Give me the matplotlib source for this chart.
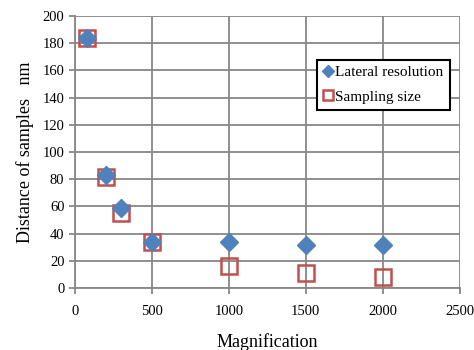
import matplotlib.pyplot as plt

plt.rcParams['font.family'] = ['Liberation Serif', 'DejaVu Serif']

magnification = [80, 200, 300, 500, 1000, 1500, 2000]
lateral_resolution = [184, 83, 59, 34, 34, 32, 32]
sampling_size = [184, 82, 55, 34, 16, 11, 8]

fig = plt.figure(figsize=(4.74, 3.5), dpi=100)
ax = fig.add_axes([0.158, 0.177, 0.812, 0.777])

ax.plot(magnification, sampling_size, linestyle='none', marker='s', markersize=11,
        markerfacecolor='none', markeredgecolor='#C0504D', markeredgewidth=1.8,
        label='Sampling size', zorder=3)
ax.plot(magnification, lateral_resolution, linestyle='none', marker='D', markersize=9,
        color='#4F81BD', label='Lateral resolution', zorder=4)

ax.set_xlim(0, 2500)
ax.set_ylim(0, 200)
ax.set_xticks(range(0, 2501, 500))
ax.set_yticks(range(0, 201, 20))
ax.grid(True, color='#878787', linewidth=1.3)
ax.set_axisbelow(True)
for s in ax.spines.values():
    s.set_visible(False)
for side in ['left', 'bottom']:
    ax.spines[side].set_visible(True)
    ax.spines[side].set_color('#878787')
    ax.spines[side].set_linewidth(1.3)
ax.tick_params(axis='both', colors='#878787', labelcolor='black', labelsize=10.5,
               length=4, width=1.3)
ax.tick_params(axis='x', pad=8)

ax.set_ylabel('Distance of samples   nm', fontsize=13, labelpad=6)
ax.set_xlabel('Magnification', fontsize=13, labelpad=11)

handles, labels = ax.get_legend_handles_labels()
leg = ax.legend(handles[::-1], labels[::-1], loc='upper left',
                bbox_to_anchor=(0.629, 0.84), borderaxespad=0, fontsize=11,
                frameon=True, fancybox=False, edgecolor='black', framealpha=1,
                handlelength=0.6, handletextpad=0.2, borderpad=0.4,
                labelspacing=0.7, markerscale=0.65)
leg.get_frame().set_linewidth(1.5)

fig.savefig('out.png', dpi=100)
